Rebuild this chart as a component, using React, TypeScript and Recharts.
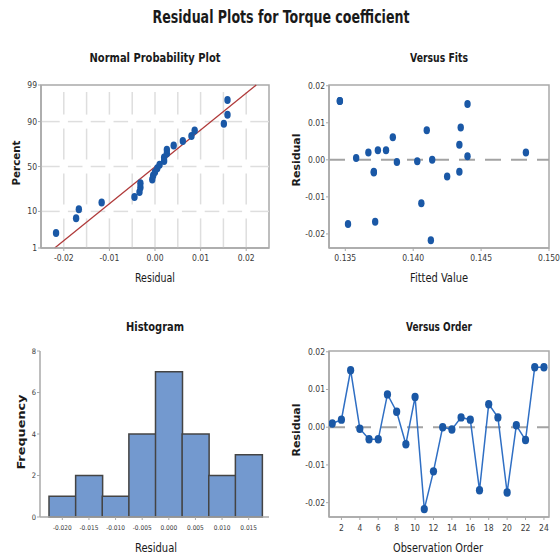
import React from "react";
import {
  ScatterChart,
  Scatter,
  ComposedChart,
  Line,
  BarChart,
  Bar,
  XAxis,
  YAxis,
  ReferenceLine,
  ReferenceArea,
} from "recharts";

// Residuals in observation order
const observationOrder = [1, 2, 3, 4, 5, 6, 7, 8, 9, 10, 11, 12, 13, 14, 15, 16, 17, 18, 19, 20, 21, 22, 23, 24];
const residuals = [
  0.001, 0.002, 0.0151, -0.0004, -0.0032, -0.0032, 0.0087, 0.0041, -0.0045, 0.008, -0.0217, -0.0117,
  0.0, -0.0006, 0.0026, 0.002, -0.0167, 0.0061, 0.0026, -0.0173, 0.0005, -0.0034, 0.0159, 0.0159,
];
// Fitted torque coefficient for each observation
const fittedValues = [
  0.144, 0.1367, 0.144, 0.1403, 0.1434, 0.1371, 0.1435, 0.1434, 0.1425, 0.141, 0.1413, 0.1406,
  0.1414, 0.1388, 0.1374, 0.1483, 0.1372, 0.1385, 0.138, 0.1352, 0.1358, 0.1371, 0.1346, 0.1346,
];

// Histogram bins (centres) and frequencies
const binLabels = ["-0.020", "-0.015", "-0.010", "-0.005", "0.000", "0.005", "0.010", "0.015"];
const binCounts = [1, 2, 1, 4, 7, 4, 2, 3];

// Axis ticks
const percentTicks = [1, 10, 50, 90, 99];
const gridPercents = [10, 50, 90];
const residualTicks = [-0.02, -0.01, 0, 0.01, 0.02];
const residualGrid = [-0.02, -0.015, -0.01, -0.005, 0, 0.005, 0.01, 0.015, 0.02];
const fittedTicks = [0.135, 0.14, 0.145, 0.15];
const orderTicks = [2, 4, 6, 8, 10, 12, 14, 16, 18, 20, 22, 24];
const frequencyTicks = [0, 2, 4, 6, 8];

// Reference normal distribution line
const fitMean = 0.0001;
const fitStDev = 0.0095;

const FONT = '"Liberation Sans Narrow", "DejaVu Sans Condensed", "Liberation Sans", sans-serif';
const MARK = "#1A58A6";
const FRAME = "#a9a9a9";
const GRID = "#dedede";
const TICK = { fontSize: 8.5, fill: "#3a3a3a", fontFamily: FONT };

// Inverse standard normal CDF (Acklam)
function probit(p: number): number {
  const a = [-39.69683028665376, 220.9460984245205, -275.9285104469687, 138.357751867269, -30.66479806614716, 2.506628277459239];
  const b = [-54.47609879822406, 161.5858368580409, -155.6989798598866, 66.80131188771972, -13.28068155288572];
  const c = [-0.007784894002430293, -0.3223964580411365, -2.400758277161838, -2.549732539343734, 4.374664141464968, 2.938163982698783];
  const d = [0.007784695709041462, 0.3224671290700398, 2.445134137142996, 3.754408661907416];
  const pl = 0.02425;
  if (p < pl) {
    const q = Math.sqrt(-2 * Math.log(p));
    return (((((c[0] * q + c[1]) * q + c[2]) * q + c[3]) * q + c[4]) * q + c[5]) / ((((d[0] * q + d[1]) * q + d[2]) * q + d[3]) * q + 1);
  }
  if (p > 1 - pl) {
    const q = Math.sqrt(-2 * Math.log(1 - p));
    return -(((((c[0] * q + c[1]) * q + c[2]) * q + c[3]) * q + c[4]) * q + c[5]) / ((((d[0] * q + d[1]) * q + d[2]) * q + d[3]) * q + 1);
  }
  const q = p - 0.5;
  const r = q * q;
  return ((((((a[0] * r + a[1]) * r + a[2]) * r + a[3]) * r + a[4]) * r + a[5]) * q) / (((((b[0] * r + b[1]) * r + b[2]) * r + b[3]) * r + b[4]) * r + 1);
}

const Z_MIN = probit(0.01);
const Z_MAX = probit(0.99);
const RES_MIN = -0.025;
const RES_MAX = 0.025;

// Median-rank plotting positions for the normal probability plot
const sortedResiduals = [...residuals].sort((a, b) => a - b);
const normalPoints = sortedResiduals.map((r, i) => ({
  res: r,
  z: probit((i + 1 - 0.3) / (sortedResiduals.length + 0.4)),
}));

const fitsData = residuals.map((r, i) => ({ fit: fittedValues[i], res: r }));
const orderData = residuals.map((r, i) => ({ obs: observationOrder[i], res: r }));
const histData = binLabels.map((b, i) => ({ bin: b, count: binCounts[i] }));

const percentLabel = (v: number) => {
  let best = percentTicks[0];
  percentTicks.forEach((p) => {
    if (Math.abs(probit(p / 100) - v) < Math.abs(probit(best / 100) - v)) best = p;
  });
  return String(best);
};

// Grid segments broken at the crossings
const gx = 0.0009;
const gz = 0.2;
const xBounds = [RES_MIN, ...residualGrid, RES_MAX];
const zBounds = [Z_MIN, ...gridPercents.map((p) => probit(p / 100)), Z_MAX];
const hSegments: { y: number; x1: number; x2: number }[] = [];
gridPercents.forEach((p) => {
  for (let k = 0; k < xBounds.length - 1; k++) {
    hSegments.push({
      y: probit(p / 100),
      x1: xBounds[k] + (k > 0 ? gx : 0),
      x2: xBounds[k + 1] - (k + 1 < xBounds.length - 1 ? gx : 0),
    });
  }
});
const vSegments: { x: number; z1: number; z2: number }[] = [];
residualGrid.forEach((x) => {
  for (let k = 0; k < zBounds.length - 1; k++) {
    vSegments.push({
      x,
      z1: zBounds[k] + (k > 0 ? gz : 0),
      z2: zBounds[k + 1] - gz,
    });
  }
});

const dotShape = (p: any) => <ellipse cx={p.cx} cy={p.cy} rx={3.2} ry={4} fill={MARK} />;
const lineDot = (p: any) => <ellipse key={`d${p.index}`} cx={p.cx} cy={p.cy} rx={3.6} ry={4.2} fill={MARK} />;

const axisCommon = {
  axisLine: { stroke: FRAME, strokeWidth: 1.5 },
  tickLine: { stroke: FRAME },
  tickSize: 3,
  tick: TICK,
};

export default function App() {
  const FITS_Y: [number, number] = [-0.0238, 0.0202];
  return (
    <div style={{ position: "absolute", left: 0, top: 0, width: 560, height: 558, background: "#fff" }}>
      {/* Normal probability plot */}
      <div style={{ position: "absolute", left: 0, top: 0 }}>
        <ScatterChart width={280} height={279} margin={{ top: 85, right: 11, bottom: 6, left: 0 }}>
          <XAxis
            type="number"
            dataKey="res"
            domain={[RES_MIN, RES_MAX]}
            ticks={residualTicks}
            tickFormatter={(v: number) => v.toFixed(2)}
            allowDataOverflow
            height={25}
            tickMargin={4}
            {...axisCommon}
          />
          <YAxis
            type="number"
            dataKey="z"
            domain={[Z_MIN, Z_MAX]}
            ticks={percentTicks.map((p) => probit(p / 100))}
            tickFormatter={percentLabel}
            allowDataOverflow
            width={41}
            tickMargin={1}
            {...axisCommon}
          />
          {hSegments.map((s, i) => (
            <ReferenceLine
              key={`h${i}`}
              segment={[{ x: s.x1, y: s.y }, { x: s.x2, y: s.y }]}
              stroke={GRID}
              strokeWidth={1.5}
              ifOverflow="visible"
            />
          ))}
          {vSegments.map((s, i) => (
            <ReferenceLine
              key={`v${i}`}
              segment={[{ x: s.x, y: s.z1 }, { x: s.x, y: s.z2 }]}
              stroke={GRID}
              strokeWidth={1.5}
              ifOverflow="visible"
            />
          ))}
          <ReferenceArea x1={RES_MIN} x2={RES_MAX} y1={Z_MIN} y2={Z_MAX} fill="none" stroke={FRAME} strokeWidth={1.5} ifOverflow="visible" />
          <ReferenceLine
            segment={[
              { x: fitMean + fitStDev * Z_MIN, y: Z_MIN },
              { x: fitMean + fitStDev * Z_MAX, y: Z_MAX },
            ]}
            stroke="#B03A3A"
            strokeWidth={1.3}
            ifOverflow="visible"
          />
          <Scatter data={normalPoints} shape={dotShape} isAnimationActive={false} />
        </ScatterChart>
      </div>

      {/* Versus fits */}
      <div style={{ position: "absolute", left: 280, top: 0 }}>
        <ScatterChart width={280} height={279} margin={{ top: 85, right: 11, bottom: 6, left: 0 }}>
          <XAxis
            type="number"
            dataKey="fit"
            domain={[0.1338, 0.15]}
            ticks={fittedTicks}
            tickFormatter={(v: number) => v.toFixed(3)}
            allowDataOverflow
            height={25}
            tickMargin={4}
            {...axisCommon}
          />
          <YAxis
            type="number"
            dataKey="res"
            domain={FITS_Y}
            ticks={residualTicks}
            tickFormatter={(v: number) => v.toFixed(2)}
            allowDataOverflow
            width={49}
            tickMargin={1}
            {...axisCommon}
          />
          <ReferenceArea x1={0.1338} x2={0.15} y1={FITS_Y[0]} y2={FITS_Y[1]} fill="none" stroke={FRAME} strokeWidth={1.5} ifOverflow="visible" />
          <ReferenceLine y={0} stroke="#a3a3a3" strokeWidth={2} strokeDasharray="16 10" />
          <Scatter data={fitsData} shape={dotShape} isAnimationActive={false} />
        </ScatterChart>
      </div>

      {/* Histogram */}
      <div style={{ position: "absolute", left: 0, top: 279 }}>
        <BarChart width={280} height={279} data={histData} barCategoryGap={0} margin={{ top: 72, right: 11, bottom: 16, left: 0 }}>
          <XAxis
            dataKey="bin"
            type="category"
            padding={{ left: 9, right: 7 }}
            height={25}
            tickMargin={5}
            interval={0}
            {...axisCommon}
            tick={{ ...TICK, fontSize: 6.5 }}
          />
          <XAxis
            xAxisId="top"
            orientation="top"
            dataKey="bin"
            type="category"
            height={0}
            tick={false}
            tickLine={false}
            axisLine={{ stroke: FRAME, strokeWidth: 1.5 }}
          />
          <YAxis
            type="number"
            domain={[0, 8]}
            ticks={frequencyTicks}
            width={40}
            tickMargin={1}
            {...axisCommon}
            tick={{ ...TICK, fontSize: 7.5 }}
          />
          <YAxis
            yAxisId="right"
            orientation="right"
            type="number"
            domain={[0, 8]}
            width={0}
            tick={false}
            tickLine={false}
            axisLine={{ stroke: FRAME, strokeWidth: 1.5 }}
          />
          <Bar dataKey="count" fill="#7399CF" stroke="#444" strokeWidth={1.5} isAnimationActive={false} />
        </BarChart>
      </div>

      {/* Versus order */}
      <div style={{ position: "absolute", left: 280, top: 279 }}>
        <ComposedChart width={280} height={279} data={orderData} margin={{ top: 72, right: 11, bottom: 16, left: 0 }}>
          <XAxis
            type="number"
            dataKey="obs"
            domain={[0.65, 24.55]}
            ticks={orderTicks}
            allowDataOverflow
            height={25}
            tickMargin={5}
            {...axisCommon}
          />
          <YAxis
            type="number"
            domain={FITS_Y}
            ticks={residualTicks}
            tickFormatter={(v: number) => v.toFixed(2)}
            allowDataOverflow
            width={49}
            tickMargin={1}
            {...axisCommon}
          />
          <ReferenceArea x1={0.65} x2={24.55} y1={FITS_Y[0]} y2={FITS_Y[1]} fill="none" stroke={FRAME} strokeWidth={1.5} ifOverflow="visible" />
          <ReferenceLine y={0} stroke="#a3a3a3" strokeWidth={2} strokeDasharray="16 10" />
          <Line type="linear" dataKey="res" stroke="#2F6FC4" strokeWidth={1.5} dot={lineDot} isAnimationActive={false} />
        </ComposedChart>
      </div>

      {/* Titles */}
      <svg width={560} height={558} style={{ position: "absolute", left: 0, top: 0, pointerEvents: "none" }} fontFamily={FONT} fill="#1a1a1a">
        <text x={281} y={23} textAnchor="middle" fontSize={18} fontWeight="bold" textLength={257} lengthAdjust="spacingAndGlyphs">
          Residual Plots for Torque coefficient
        </text>
        <text x={155} y={62} textAnchor="middle" fontSize={13} fontWeight="bold" textLength={131} lengthAdjust="spacingAndGlyphs">
          Normal Probability Plot
        </text>
        <text x={439} y={62} textAnchor="middle" fontSize={13} fontWeight="bold" textLength={58} lengthAdjust="spacingAndGlyphs">
          Versus Fits
        </text>
        <text x={155} y={331} textAnchor="middle" fontSize={13} fontWeight="bold" textLength={58} lengthAdjust="spacingAndGlyphs">
          Histogram
        </text>
        <text x={439} y={331} textAnchor="middle" fontSize={13} fontWeight="bold" textLength={66} lengthAdjust="spacingAndGlyphs">
          Versus Order
        </text>
        <text x={155} y={282} textAnchor="middle" fontSize={13} textLength={40} lengthAdjust="spacingAndGlyphs">
          Residual
        </text>
        <text x={439} y={282} textAnchor="middle" fontSize={13} textLength={58} lengthAdjust="spacingAndGlyphs">
          Fitted Value
        </text>
        <text x={156} y={552} textAnchor="middle" fontSize={13} textLength={42} lengthAdjust="spacingAndGlyphs">
          Residual
        </text>
        <text x={438} y={552} textAnchor="middle" fontSize={13} textLength={90} lengthAdjust="spacingAndGlyphs">
          Observation Order
        </text>
        <text transform="translate(20,163) rotate(-90)" textAnchor="middle" fontSize={11} fontWeight="bold" textLength={45} lengthAdjust="spacingAndGlyphs">
          Percent
        </text>
        <text transform="translate(300,160) rotate(-90)" textAnchor="middle" fontSize={11} fontWeight="bold" textLength={53} lengthAdjust="spacingAndGlyphs">
          Residual
        </text>
        <text transform="translate(25,432) rotate(-90)" textAnchor="middle" fontSize={11} fontWeight="bold" textLength={75} lengthAdjust="spacingAndGlyphs">
          Frequency
        </text>
        <text transform="translate(300,430) rotate(-90)" textAnchor="middle" fontSize={11} fontWeight="bold" textLength={53} lengthAdjust="spacingAndGlyphs">
          Residual
        </text>
      </svg>
    </div>
  );
}
